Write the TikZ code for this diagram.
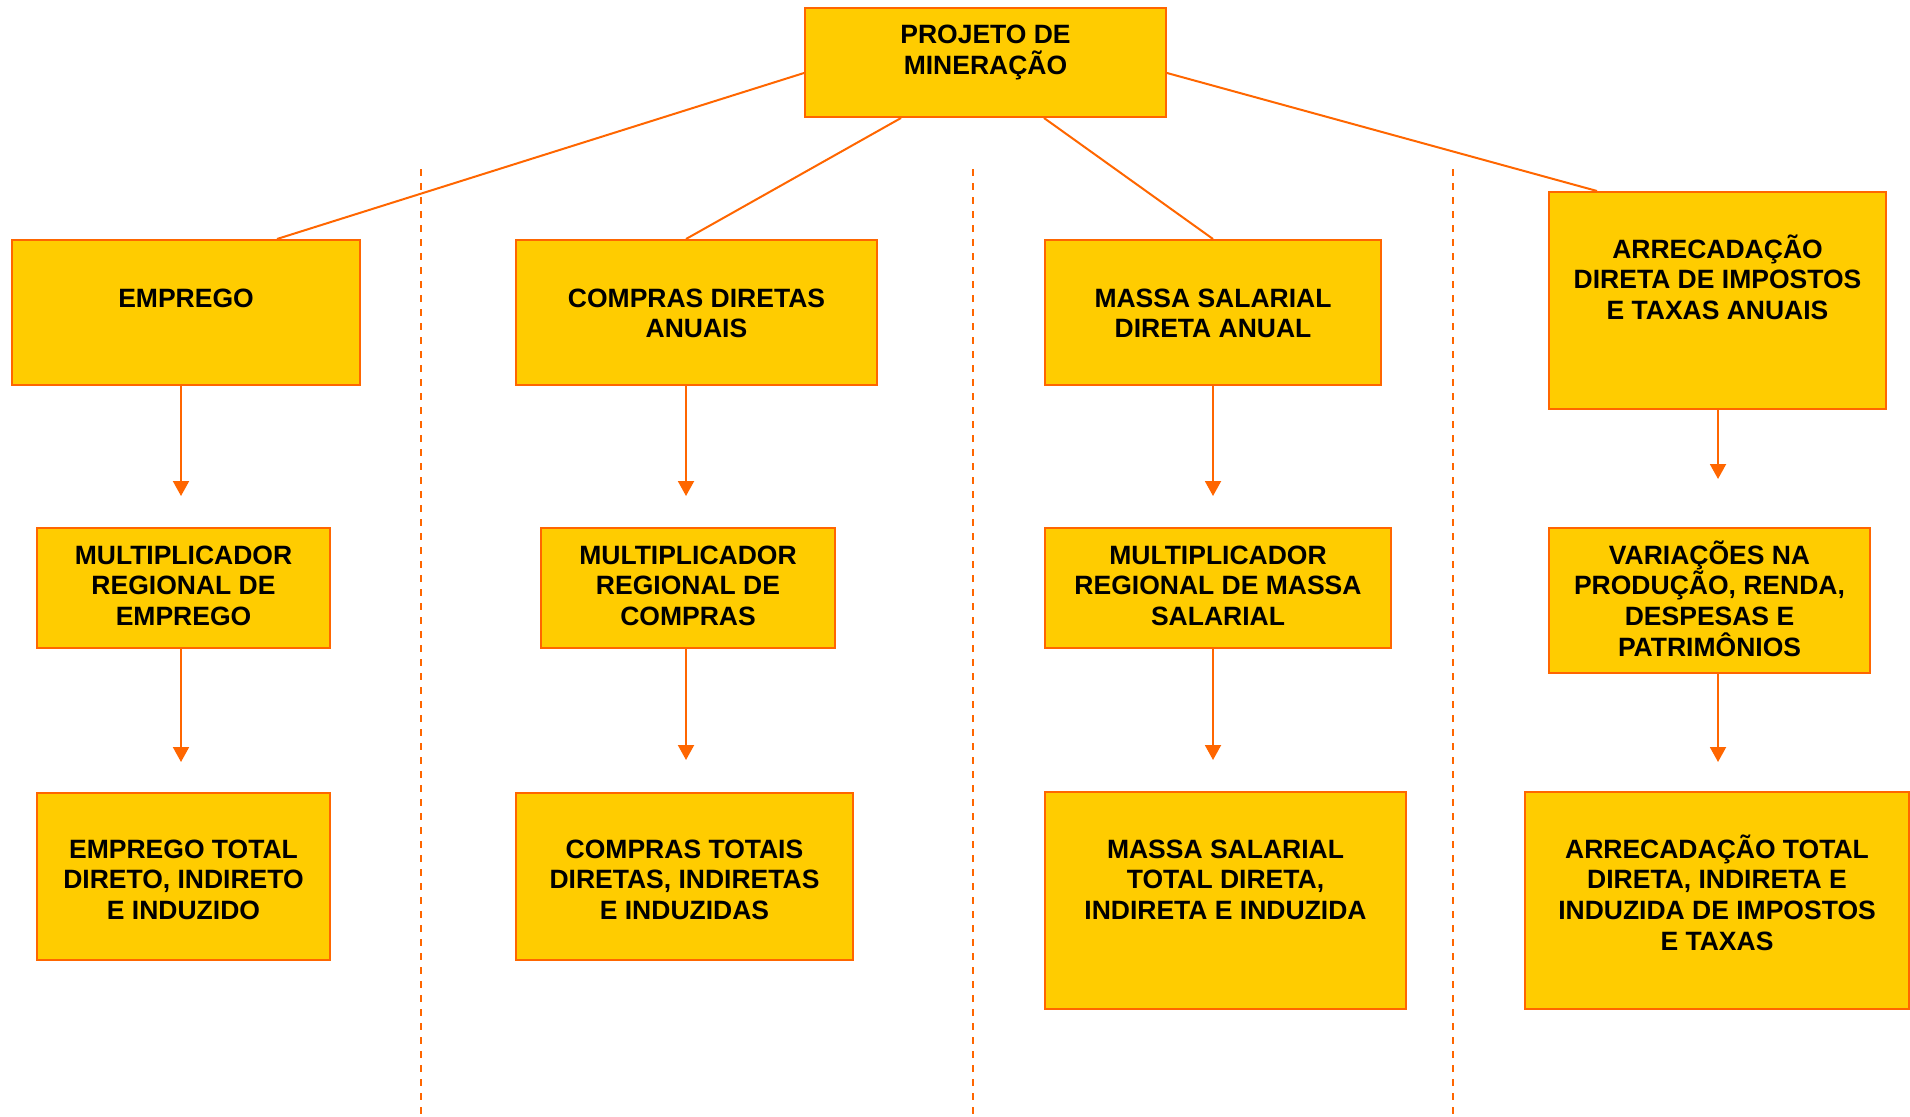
\documentclass[tikz,border=0pt]{standalone}
\usepackage{fontspec}
\setmainfont{Liberation Sans}
\usetikzlibrary{arrows.meta}
\definecolor{boxfill}{HTML}{FFCC00}
\definecolor{boxline}{HTML}{FF6600}
% centred block of lines whose baseline is that of the first line
\newcommand{\boxlines}[1]{\begin{tabular}[t]{@{}c@{}}#1\end{tabular}}
% rectangle given by its corners: name, x1, y1, x2, y2
\newcommand{\panelbox}[5]{%
  \node[panel, minimum width={(#4-#2)*1pt}, minimum height={(#5-#3)*1pt}]
    (#1) at ({(#2+#4)/2},{(#3+#5)/2}) {};}

\begin{document}
\begin{tikzpicture}[x=1pt,y=-1pt,
  panel/.style={draw=boxline, fill=boxfill, line width=2pt, inner sep=0pt},
  lbl/.style={anchor=base, inner sep=0pt, text=black,
    font=\fontsize{26.5}{30.7}\selectfont\bfseries},
  link/.style={draw=boxline, line width=2pt},
  flow/.style={draw=boxline, line width=2pt,
    -{Triangle[width=16pt,length=15pt]}},
  divider/.style={draw=boxline, line width=2pt, dash pattern=on 7pt off 7pt}
]
\useasboundingbox (0,0) rectangle (1910,1116);

% column separators
\draw[divider] (421,169) -- (421,1116);
\draw[divider] (973,169) -- (973,1116);
\draw[divider] (1453,169) -- (1453,1116);

% boxes
\panelbox{top}{805}{8}{1166}{117}
\panelbox{emp}{12}{240}{360}{385}
\panelbox{cmp}{516}{240}{877}{385}
\panelbox{mas}{1045}{240}{1381}{385}
\panelbox{arr}{1549}{192}{1886}{409}
\panelbox{memp}{37}{528}{330}{648}
\panelbox{mcmp}{541}{528}{835}{648}
\panelbox{mmas}{1045}{528}{1391}{648}
\panelbox{var}{1549}{528}{1870}{673}
\panelbox{temp}{37}{793}{330}{960}
\panelbox{tcmp}{516}{793}{853}{960}
\panelbox{tmas}{1045}{792}{1406}{1009}
\panelbox{tarr}{1525}{792}{1909}{1009}

% links from the project to the four branches
\draw[link] ([yshift=-10.5pt]top.west) -- ([xshift=91pt]emp.north);
\draw[link] ([xshift=-84.5pt]top.south) -- ([xshift=-10.5pt]cmp.north);
\draw[link] ([xshift=58.5pt]top.south) -- (mas.north);
\draw[link] ([yshift=-10.5pt]top.east) -- ([xshift=-120.5pt]arr.north);

% downward arrows
\coordinate (emp-a) at (181,496);
\coordinate (memp-a) at (181,762);
\coordinate (cmp-a) at (686,496);
\coordinate (mcmp-a) at (686,760);
\coordinate (mas-a) at (1213,496);
\coordinate (mmas-a) at (1213,760);
\coordinate (arr-a) at (1718,479);
\coordinate (var-a) at (1718,762);
\draw[flow] (emp.south -| emp-a) -- (emp-a);
\draw[flow] (memp.south -| memp-a) -- (memp-a);
\draw[flow] (cmp.south -| cmp-a) -- (cmp-a);
\draw[flow] (mcmp.south -| mcmp-a) -- (mcmp-a);
\draw[flow] (mas.south -| mas-a) -- (mas-a);
\draw[flow] (mmas.south -| mmas-a) -- (mmas-a);
\draw[flow] (arr.south -| arr-a) -- (arr-a);
\draw[flow] (var.south -| var-a) -- (var-a);

% labels (accented lines are smashed so every line keeps the same spacing)
\node[lbl] (top-t) at (top.center |- 0,44) {\boxlines{PROJETO DE\\\smash{MINERAÇÃO}}};
\node[lbl] (emp-t) at (emp.center |- 0,307) {\boxlines{EMPREGO}};
\node[lbl] (cmp-t) at (cmp.center |- 0,307) {\boxlines{COMPRAS DIRETAS\\ANUAIS}};
\node[lbl] (mas-t) at (mas.center |- 0,307) {\boxlines{MASSA SALARIAL\\DIRETA ANUAL}};
\node[lbl] (arr-t) at (arr.center |- 0,258) {\boxlines{\smash{ARRECADAÇÃO}\\DIRETA DE IMPOSTOS\\E TAXAS ANUAIS}};
\node[lbl] (memp-t) at (memp.center |- 0,564) {\boxlines{MULTIPLICADOR\\REGIONAL DE\\EMPREGO}};
\node[lbl] (mcmp-t) at (mcmp.center |- 0,564) {\boxlines{MULTIPLICADOR\\REGIONAL DE\\COMPRAS}};
\node[lbl] (mmas-t) at (mmas.center |- 0,564) {\boxlines{MULTIPLICADOR\\REGIONAL DE MASSA\\SALARIAL}};
\node[lbl] (var-t) at (var.center |- 0,564) {\boxlines{\smash{VARIAÇÕES NA}\\\smash{PRODUÇÃO, RENDA,}\\DESPESAS E\\\smash{PATRIMÔNIOS}}};
\node[lbl] (temp-t) at (temp.center |- 0,858) {\boxlines{EMPREGO TOTAL\\DIRETO, INDIRETO\\E INDUZIDO}};
\node[lbl] (tcmp-t) at (tcmp.center |- 0,858) {\boxlines{COMPRAS TOTAIS\\DIRETAS, INDIRETAS\\E INDUZIDAS}};
\node[lbl] (tmas-t) at (tmas.center |- 0,858) {\boxlines{MASSA SALARIAL\\TOTAL DIRETA,\\INDIRETA E INDUZIDA}};
\node[lbl] (tarr-t) at (tarr.center |- 0,858) {\boxlines{\smash{ARRECADAÇÃO TOTAL}\\DIRETA, INDIRETA E\\INDUZIDA DE IMPOSTOS\\E TAXAS}};
\end{tikzpicture}
\end{document}
